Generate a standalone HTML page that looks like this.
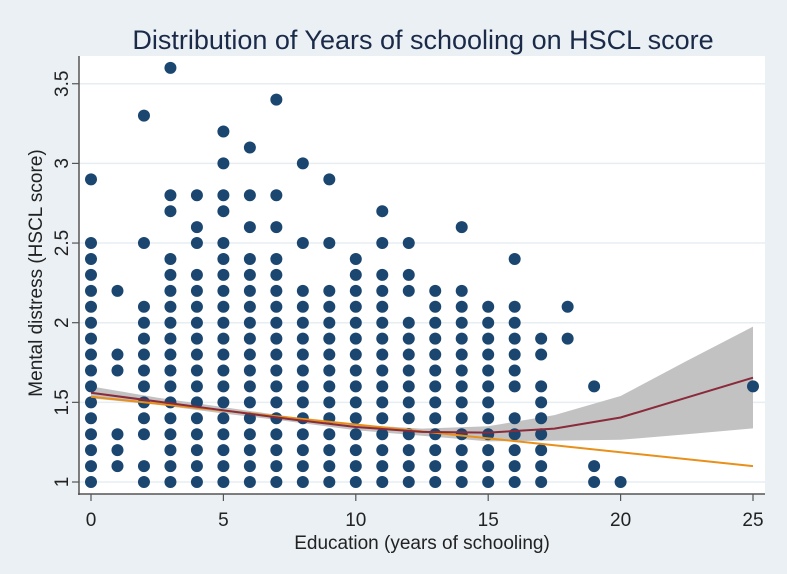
<!DOCTYPE html>
<html><head><meta charset="utf-8"><style>
body{margin:0;background:#eaf0f3;}
svg{display:block;font-family:"Liberation Sans",sans-serif;}
</style></head><body>
<svg id="chart" width="787" height="574">
<rect x="0" y="0" width="787" height="574" fill="#eaf0f3"/>
<rect x="79" y="56" width="686" height="438" fill="#ffffff"/>
<text x="423" y="49" text-anchor="middle" font-size="27" fill="#1a2a48">Distribution of Years of schooling on HSCL score</text>
<g id="grid"></g>
<g id="band"></g>
<g id="dots"></g>
<g id="lines"></g>
<g id="axes"></g>
<text x="422" y="549" text-anchor="middle" font-size="19" fill="#222">Education (years of schooling)</text>
<text transform="translate(42,273) rotate(-90)" text-anchor="middle" font-size="19" fill="#222">Mental distress (HSCL score)</text>
</svg>
<script>
const xTicks=[0,5,10,15,20,25];
const yTicks=[1,1.5,2,2.5,3,3.5];
const yTickLabels=["1","1.5","2","2.5","3","3.5"];
const colX=[0,1,2,3,4,5,6,7,8,9,10,11,12,13,14,15,16,17,18,19,20,25];
const colY=[
"1.0 1.1 1.2 1.3 1.4 1.5 1.6 1.7 1.8 1.9 2.0 2.1 2.2 2.3 2.4 2.5 2.9",
"1.1 1.2 1.3 1.7 1.8 2.2",
"1.0 1.1 1.3 1.4 1.5 1.6 1.7 1.8 1.9 2.0 2.1 2.5 3.3",
"1.0 1.1 1.2 1.3 1.4 1.5 1.6 1.7 1.8 1.9 2.0 2.1 2.2 2.3 2.4 2.7 2.8 3.6",
"1.0 1.1 1.2 1.3 1.4 1.5 1.6 1.7 1.8 1.9 2.0 2.1 2.2 2.3 2.5 2.6 2.8",
"1.0 1.1 1.2 1.3 1.4 1.5 1.6 1.7 1.8 1.9 2.0 2.1 2.2 2.3 2.4 2.5 2.7 2.8 3.0 3.2",
"1.0 1.1 1.2 1.3 1.4 1.5 1.6 1.7 1.8 1.9 2.0 2.1 2.2 2.3 2.4 2.6 2.8 3.1",
"1.0 1.1 1.2 1.3 1.4 1.5 1.6 1.7 1.8 1.9 2.0 2.1 2.2 2.3 2.4 2.6 2.8 3.4",
"1.0 1.1 1.2 1.3 1.4 1.5 1.6 1.7 1.8 1.9 2.0 2.1 2.2 2.5 3.0",
"1.0 1.1 1.2 1.3 1.4 1.5 1.6 1.7 1.8 1.9 2.0 2.1 2.2 2.5 2.9",
"1.0 1.1 1.2 1.3 1.4 1.5 1.6 1.7 1.8 1.9 2.0 2.1 2.2 2.3 2.4",
"1.0 1.1 1.2 1.3 1.4 1.5 1.6 1.7 1.8 1.9 2.0 2.1 2.2 2.3 2.5 2.7",
"1.0 1.1 1.2 1.3 1.4 1.5 1.6 1.7 1.8 1.9 2.0 2.2 2.3 2.5",
"1.0 1.1 1.2 1.3 1.4 1.5 1.6 1.7 1.8 1.9 2.0 2.1 2.2",
"1.0 1.1 1.2 1.3 1.4 1.5 1.6 1.7 1.8 1.9 2.0 2.1 2.2 2.6",
"1.0 1.1 1.2 1.3 1.4 1.5 1.6 1.7 1.8 1.9 2.0 2.1",
"1.0 1.1 1.2 1.3 1.4 1.6 1.7 1.8 1.9 2.0 2.1 2.4",
"1.0 1.1 1.2 1.3 1.4 1.5 1.6 1.8 1.9",
"1.9 2.1",
"1.0 1.1 1.6",
"1.0",
"1.6"];
const fitX=[0,2.5,5,7.5,10,12.5,15,17.5,20,22.5,25];
const fitY=[1.56,1.505,1.45,1.395,1.345,1.315,1.31,1.335,1.405,1.53,1.655];
const bandLo=[1.525,1.485,1.43,1.38,1.325,1.29,1.255,1.26,1.265,1.3,1.337];
const bandHi=[1.60,1.53,1.47,1.41,1.36,1.335,1.35,1.42,1.54,1.76,1.975];
const linX=[0,25];
const linY=[1.535,1.10];

const sx=v=>91+v*26.48;
const sy=v=>482-(v-1)*159.3;
const NS="http://www.w3.org/2000/svg";
function mk(tag,attrs,parent){const e=document.createElementNS(NS,tag);for(const k in attrs)e.setAttribute(k,attrs[k]);parent.appendChild(e);return e;}
const grid=document.getElementById('grid'),axes=document.getElementById('axes'),dots=document.getElementById('dots'),band=document.getElementById('band'),lines=document.getElementById('lines');
yTicks.forEach((t,i)=>{
  const g=mk('line',{x1:79,x2:765,y1:sy(t),y2:sy(t),stroke:'#e6eef2','stroke-width':1.5},grid);
  
  
  const tk=mk('line',{x1:72,x2:79,y1:sy(t),y2:sy(t),stroke:'#555','stroke-width':1.2},axes);
  
  
  const tx=mk('text',{transform:`translate(68,${sy(t)}) rotate(-90)`,'text-anchor':'middle','font-size':19,fill:'#222'},axes);
  tx.textContent=yTickLabels[i];
  
  
});
xTicks.forEach(t=>{
  const tk=mk('line',{x1:sx(t),x2:sx(t),y1:494,y2:501,stroke:'#555','stroke-width':1.2},axes);
  
  
  const tx=mk('text',{x:sx(t),y:526,'text-anchor':'middle','font-size':19,fill:'#222'},axes);
  tx.textContent=String(t);
  
  
});
const ax1=mk('line',{x1:79,x2:79,y1:56,y2:495,stroke:'#555','stroke-width':1.5},axes);


const ax2=mk('line',{x1:78,x2:765,y1:494,y2:494,stroke:'#555','stroke-width':1.5},axes);


colX.forEach((x,i)=>{
  colY[i].split(' ').map(Number).forEach(y=>{
    const c=mk('circle',{cx:sx(x),cy:sy(y),r:6,fill:'#1b4670'},dots);
    
    
  });
});
let d='M'+fitX.map((x,i)=>sx(x)+','+sy(bandHi[i])).join('L');
d+='L'+fitX.map((x,i)=>[x,i]).reverse().map(([x,i])=>sx(x)+','+sy(bandLo[i])).join('L')+'Z';
const bp=mk('path',{d:d,fill:'#bfbfbf','fill-opacity':0.95},band);


const lp=mk('path',{d:'M'+linX.map((x,i)=>sx(x)+','+sy(linY[i])).join('L'),stroke:'#e8901a','stroke-width':2,fill:'none'},lines);


const fp=mk('path',{d:'M'+fitX.map((x,i)=>sx(x)+','+sy(fitY[i])).join('L'),stroke:'#8a2a3a','stroke-width':2,fill:'none'},lines);


</script>
</body></html>
